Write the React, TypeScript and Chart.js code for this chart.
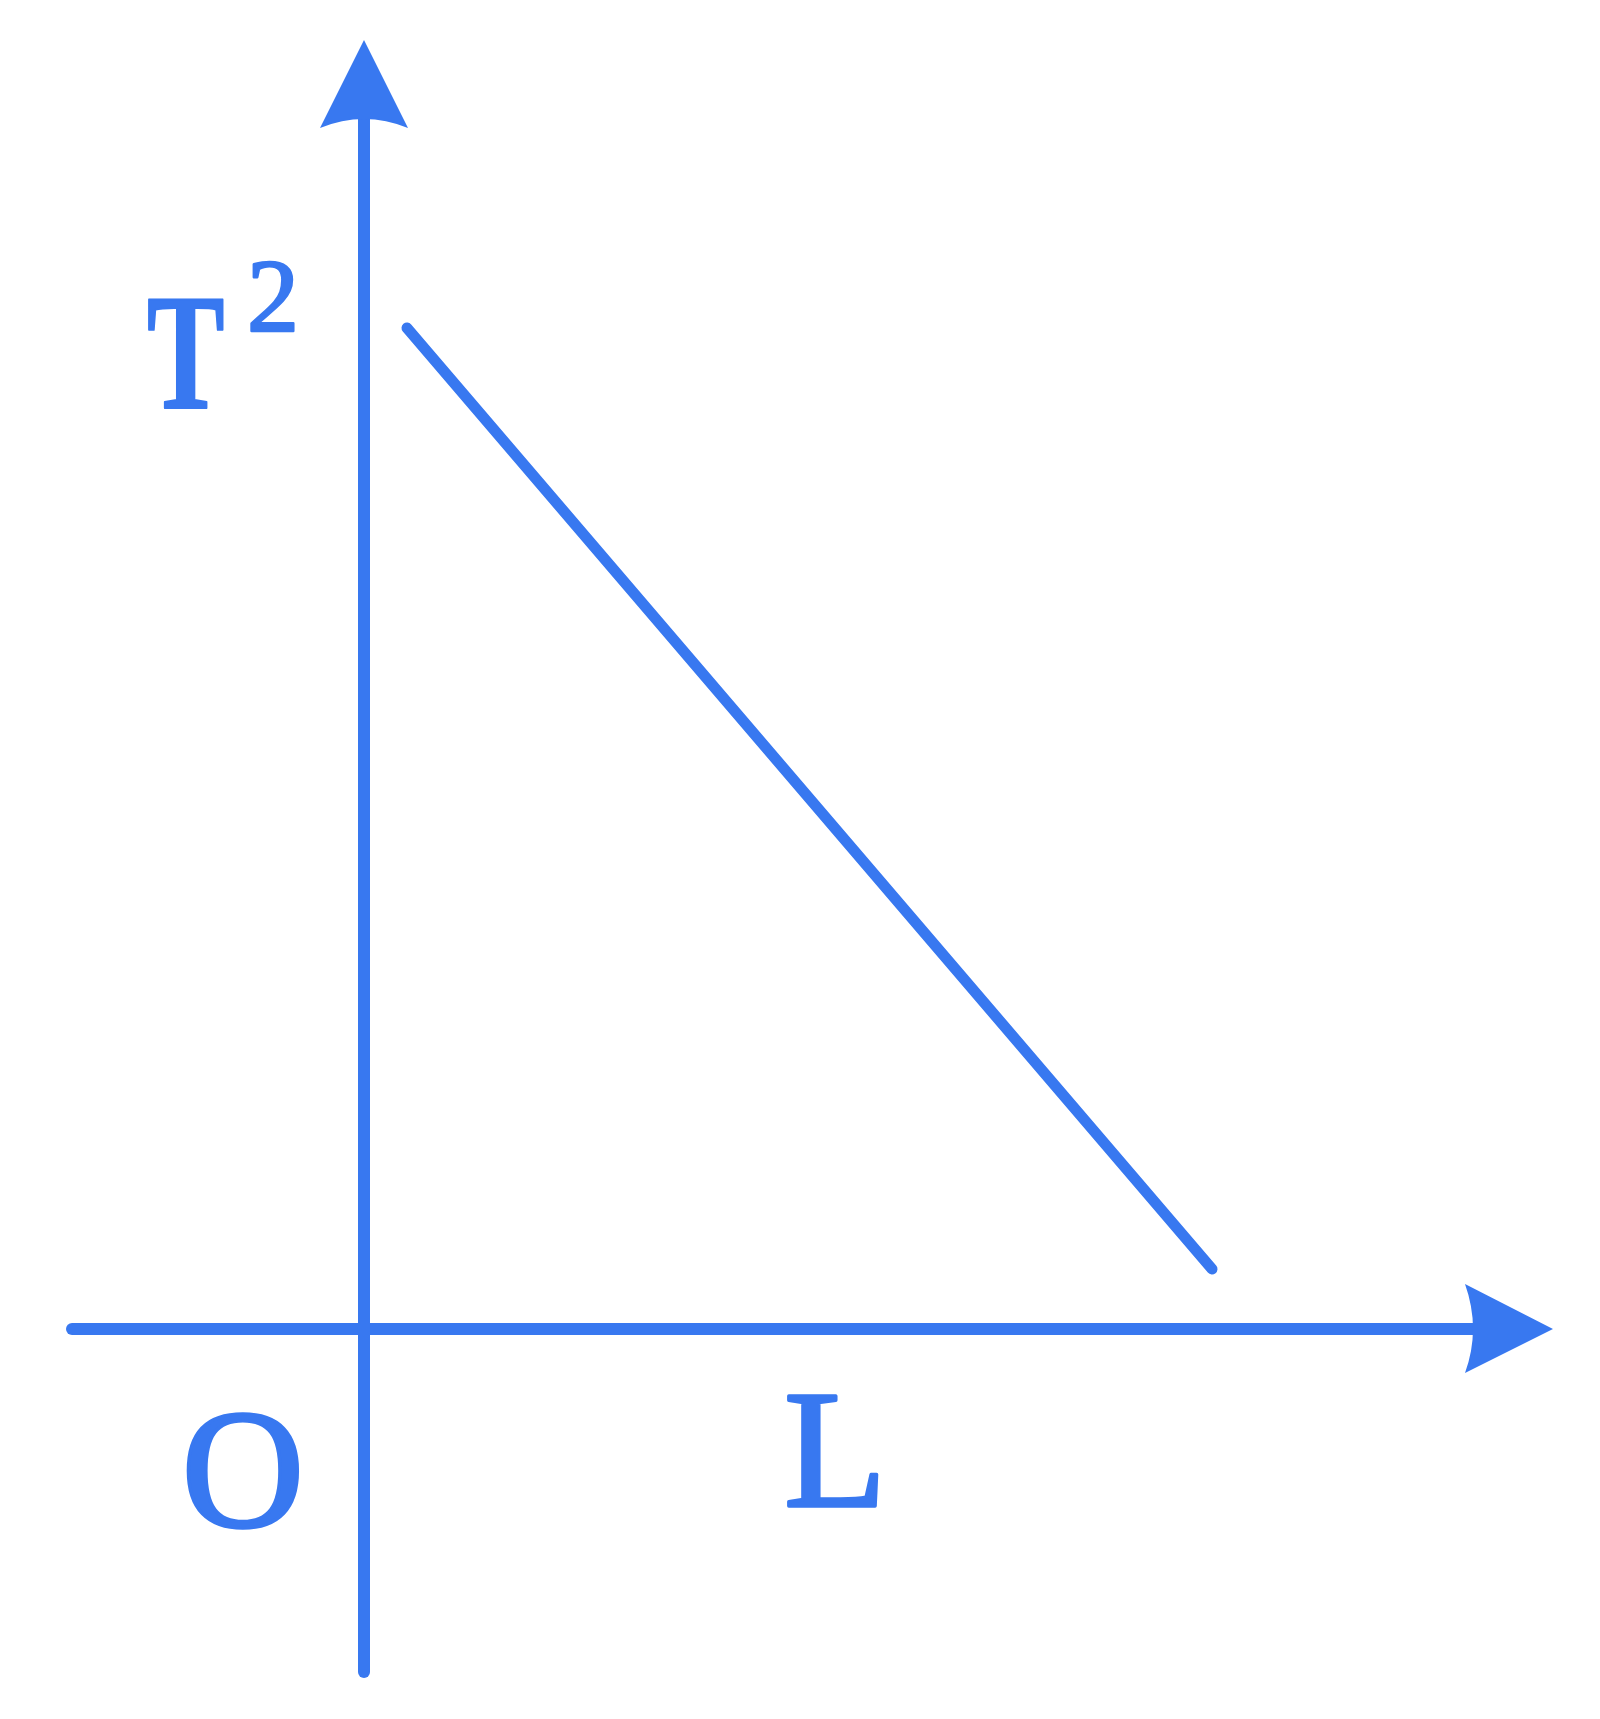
import React, { useEffect, useRef } from "react";
import { Chart, registerables } from "chart.js";

Chart.register(...registerables);

// Data (arbitrary units): T^2 falls linearly as L grows
const lengthL = [0.43, 8.48];
const periodSquared = [10.01, 0.6];

// Axis extents (data units): start of shaft, arrow tip
const xAxisExtent = [-2.92, 11.89];
const yAxisExtent = [-3.43, 12.89];

// Labels
const yAxisLabel = "T";
const yAxisLabelSup = "2";
const xAxisLabel = "L";
const originLabel = "O";

const BLUE = "#3878F0";
const SERIF = '"Liberation Serif", "Times New Roman", Times, serif';

export default function App() {
  const ref = useRef<HTMLCanvasElement | null>(null);

  useEffect(() => {
    const canvas = ref.current;
    if (!canvas) return;

    const overlay = {
      id: "overlay",
      afterDatasetsDraw(chart: any) {
        const ctx = chart.ctx as CanvasRenderingContext2D;
        const xs = chart.scales.x;
        const ys = chart.scales.y;
        const px = (v: number) => xs.getPixelForValue(v);
        const py = (v: number) => ys.getPixelForValue(v);
        ctx.save();
        ctx.fillStyle = BLUE;
        ctx.strokeStyle = BLUE;
        ctx.lineJoin = "round";

        // Y-axis arrowhead
        const yTipX = px(0);
        const yTipY = py(yAxisExtent[1]);
        ctx.beginPath();
        ctx.moveTo(yTipX, yTipY);
        ctx.lineTo(yTipX + 44, yTipY + 88);
        ctx.quadraticCurveTo(yTipX, yTipY + 70, yTipX - 44, yTipY + 88);
        ctx.closePath();
        ctx.fill();

        // X-axis arrowhead
        const xTipX = px(xAxisExtent[1]);
        const xTipY = py(0);
        ctx.beginPath();
        ctx.moveTo(xTipX, xTipY);
        ctx.lineTo(xTipX - 88, xTipY - 45);
        ctx.quadraticCurveTo(xTipX - 72, xTipY, xTipX - 88, xTipY + 44);
        ctx.closePath();
        ctx.fill();

        const label = (text: string, x: number, y: number, w: number) => {
          ctx.lineWidth = w;
          ctx.fillText(text, x, y);
          ctx.strokeText(text, x, y);
        };

        // Labels
        ctx.textBaseline = "alphabetic";
        ctx.textAlign = "left";
        // T^2
        ctx.save();
        ctx.font = `bold 166px ${SERIF}`;
        ctx.translate(px(-2.17), py(9.21));
        ctx.scale(0.7, 1);
        label(yAxisLabel, 0, 0, 2);
        ctx.restore();
        ctx.font = `104px ${SERIF}`;
        label(yAxisLabelSup, px(-1.17), py(9.98), 2.5);
        // O
        ctx.font = `170px ${SERIF}`;
        ctx.textAlign = "center";
        label(originLabel, px(-1.21), py(-1.97), 3.5);
        // L
        ctx.font = `168px ${SERIF}`;
        ctx.textAlign = "left";
        label(xAxisLabel, px(4.20), py(-1.77), 3.5);
        ctx.restore();
      },
    };

    const lineDs = (label: string, pts: { x: number; y: number }[], w: number) => ({
      label,
      data: pts,
      borderColor: BLUE,
      backgroundColor: BLUE,
      borderWidth: w,
      borderCapStyle: "round",
      pointRadius: 0,
      fill: false,
      tension: 0,
    });

    const chart = new Chart(canvas, {
      type: "line",
      data: {
        datasets: [
          lineDs(
            "x-axis",
            [
              { x: xAxisExtent[0], y: 0 },
              { x: xAxisExtent[1] - 0.7, y: 0 },
            ],
            12
          ),
          lineDs(
            "y-axis",
            [
              { x: 0, y: yAxisExtent[0] },
              { x: 0, y: yAxisExtent[1] - 0.7 },
            ],
            12
          ),
          lineDs(
            "T² vs L",
            lengthL.map((l, i) => ({ x: l, y: periodSquared[i] })),
            11
          ),
        ],
      },
      options: {
        animation: false,
        responsive: false,
        devicePixelRatio: 1,
        layout: { padding: 0 },
        plugins: {
          legend: { display: false },
          tooltip: { enabled: false },
        },
        scales: {
          x: { type: "linear", min: -3.64, max: 12.36, display: false },
          y: { type: "linear", min: -3.9, max: 13.29, display: false },
        },
      },
      plugins: [overlay],
    } as any);

    return () => chart.destroy();
  }, []);

  return (
    <div
      style={{
        position: "absolute",
        left: 0,
        top: 0,
        width: 1600,
        height: 1719,
        background: "#ffffff",
      }}
    >
      <canvas ref={ref} width={1600} height={1719} style={{ display: "block" }} />
    </div>
  );
}
